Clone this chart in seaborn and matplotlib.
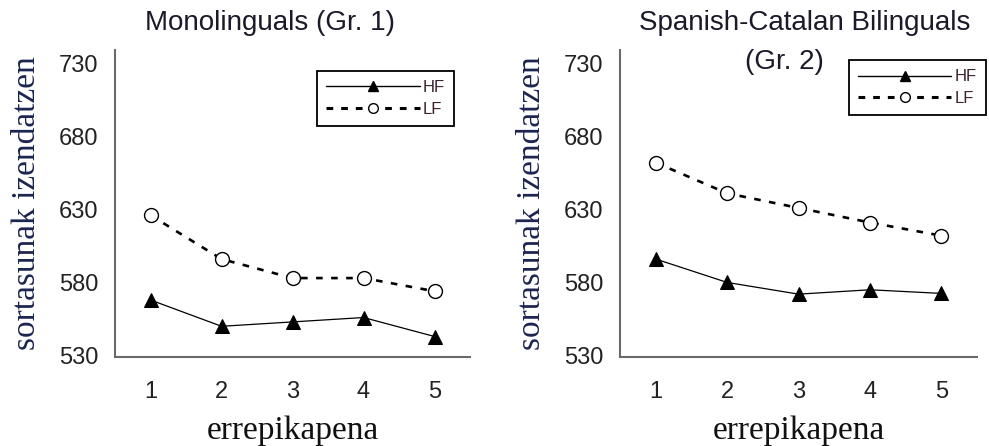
import numpy as np
import pandas as pd
import seaborn as sns
import matplotlib.pyplot as plt
from matplotlib.lines import Line2D

# values
reps = [1, 2, 3, 4, 5]
mono_hf = [568, 550, 553, 556, 543]
mono_lf = [626, 596, 583, 583, 574]
bil_hf = [596, 580, 572, 575, 572.5]
bil_lf = [662, 641, 631, 621, 612]
yticks = [530, 580, 630, 680, 730]
ylab = "sortasunak izendatzen"
xlab = "errepikapena"

sns.set_style("white")
plt.rcParams['font.family'] = ['Liberation Sans', 'DejaVu Sans']
serif = ["Liberation Serif", "DejaVu Serif"]

fig = plt.figure(figsize=(9.89, 4.46), dpi=100)
ax1 = fig.add_axes([0.1163, 0.1996, 0.359, 0.688])
ax2 = fig.add_axes([0.627, 0.1996, 0.361, 0.688])

axis_col = "#6a6a6a"
panels = [(ax1, mono_hf, mono_lf, (0.569, 0.932)), (ax2, bil_hf, bil_lf, (0.641, 0.967))]

for ax, hf, lf, leg_pos in panels:
    df = pd.DataFrame({"rep": reps * 2, "rt": hf + lf, "freq": ["HF"] * 5 + ["LF"] * 5})
    sns.lineplot(data=df[df.freq == "HF"], x="rep", y="rt", ax=ax, color="black",
                 lw=0.9, marker="^", markersize=10, markerfacecolor="black",
                 markeredgecolor="black")
    sns.lineplot(data=df[df.freq == "LF"], x="rep", y="rt", ax=ax, color="black",
                 lw=1.9, dashes=(2.5, 3.2), marker="o", markersize=10,
                 markerfacecolor="white", markeredgecolor="black", markeredgewidth=1.0)

    ax.set_xlim(0.5, 5.5)
    ax.set_ylim(529, 739)
    ax.set_yticks(yticks)
    ax.set_yticklabels([str(v) for v in yticks], fontsize=17, color="#222222")
    ax.set_xticks(reps)
    ax.set_xticklabels([str(r) for r in reps], fontsize=17, color="#222222")
    ax.set_xticks(np.arange(0.5, 6.0, 1.0), minor=True)
    ax.tick_params(axis="x", which="major", length=0, pad=17)
    ax.tick_params(axis="x", which="minor", length=5, width=1.4, color=axis_col, direction="out")
    ax.tick_params(axis="y", length=5, width=1.4, color=axis_col, direction="out", pad=7)

    for s in ["top", "right"]:
        ax.spines[s].set_visible(False)
    for s in ["left", "bottom"]:
        ax.spines[s].set_color(axis_col)
        ax.spines[s].set_linewidth(1.5)

    ax.set_ylabel(ylab, family=serif, fontsize=24, color="#1c2450", labelpad=12)
    ax.set_xlabel(xlab, family=serif, fontsize=24, color="#111111", labelpad=9)

    handles = [
        Line2D([], [], color="black", lw=1.0, marker="^", markersize=7, markerfacecolor="black"),
        Line2D([], [], color="black", lw=2.2, dashes=(2.2, 2.6), marker="o", markersize=7,
               markerfacecolor="white", markeredgecolor="black"),
    ]
    leg = ax.legend(handles, ["HF", "LF"], loc="upper left", bbox_to_anchor=leg_pos,
                    borderaxespad=0, fontsize=12, handlelength=5.6, frameon=True,
                    fancybox=False, edgecolor="black", framealpha=1, labelspacing=0.4,
                    borderpad=0.55, handletextpad=0.2, labelcolor="#3a2030")
    leg.get_frame().set_linewidth(1.3)
    leg.set_clip_on(False)

fig.text(270 / 989, 1 - 23 / 446, "Monolinguals (Gr. 1)", fontsize=20, color="#1a1a2a",
         ha="center", va="center")
fig.text(805 / 989, 1 - 23 / 446, "Spanish-Catalan Bilinguals", fontsize=20, color="#1a1a2a",
         ha="center", va="center")
fig.text(784 / 989, 1 - 62 / 446, "(Gr. 2)", fontsize=20, color="#1a1a2a",
         ha="center", va="center")

fig.savefig("out.png", dpi=100)
